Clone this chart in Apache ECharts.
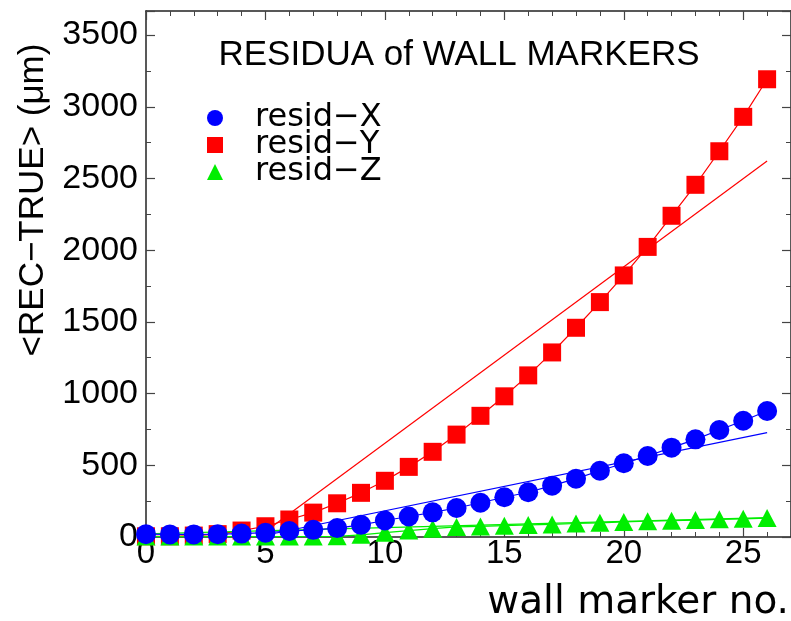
<!DOCTYPE html>
<html>
<head>
<meta charset="utf-8">
<script src="https://cdn.jsdelivr.net/npm/echarts@6/dist/echarts.min.js"></script>
<style>html,body{margin:0;padding:0;background:#fff;}#c{width:791px;height:621px;}</style>
</head>
<body>
<div id="c"></div>
<script>
// ---- data ----
const markerNo = [0,1,2,3,4,5,6,7,8,9,10,11,12,13,14,15,16,17,18,19,20,21,22,23,24,25,26];
const residX = [20,18,18,20,24,30,42,50,62,85,115,143,172,202,239,277,312,358,407,462,514,565,623,681,746,811,879];
const residY = [5,5,10,20,45,75,122,170,235,308,392,489,594,714,845,981,1127,1287,1459,1638,1824,2023,2240,2456,2690,2930,3192];
const residZ = [3,3,3,3,3,3,3,3,5,15,30,45,58,70,74,79,84,88,94,99,105,110,114,118,123,127,132];
// straight-line fits: [x start, x end] and values at those ends
const fitXRange = [5, 26], fitXVals = [12, 728];
const fitYRange = [5, 26], fitYVals = [39, 2622];
const fitZRange = [0, 26], fitZVals = [22, 135];
const xTicks = [0,5,10,15,20,25];
const yTicks = [0,500,1000,1500,2000,2500,3000,3500];
const names = ['resid\u2212X','resid\u2212Y','resid\u2212Z'];

const pts = (ys) => markerNo.map((x, i) => [x, ys[i]]);
const fit = (r, v) => [[r[0], v[0]], [r[1], v[1]]];

const BLUE = '#0000ff', RED = '#ff0000', GREEN = '#00ee00';
const numFont = 'Liberation Sans';
const txtFont = 'DejaVu Sans';

const chart = echarts.init(document.getElementById('c'), null, {renderer: 'canvas'});

const xCommon = {
  type: 'value', min: 0, max: 27, interval: xTicks[1] - xTicks[0],
  splitLine: {show: false},
  axisLine: {show: true, onZero: false, lineStyle: {color: '#222', width: 1.5}},
  axisTick: {show: true, inside: true, length: 9, lineStyle: {color: '#444', width: 1.2}},
  minorTick: {show: true, splitNumber: 5, length: 5, lineStyle: {color: '#444', width: 1}},
  minorSplitLine: {show: false}
};
const yCommon = {
  type: 'value', min: 0, max: 3668, interval: yTicks[1] - yTicks[0],
  splitLine: {show: false},
  axisLine: {show: true, onZero: false, lineStyle: {color: '#222', width: 1.5}},
  axisTick: {show: true, inside: true, length: 9, lineStyle: {color: '#444', width: 1.2}},
  minorTick: {show: true, splitNumber: 2, length: 5, lineStyle: {color: '#444', width: 1}},
  minorSplitLine: {show: false}
};

chart.setOption({
  animation: false,
  backgroundColor: '#fff',
  title: {
    text: 'RESIDUA of WALL MARKERS',
    left: 454, top: 33, textAlign: 'center',
    textStyle: {fontFamily: numFont, fontSize: 35, fontWeight: 'normal', color: '#000'}
  },
  legend: {
    left: 202, top: 97, orient: 'vertical', itemGap: -5,
    itemWidth: 16, itemHeight: 16,
    textStyle: {fontFamily: txtFont, fontSize: 32, color: '#000', padding: [0, 0, 0, 27]},
    data: [
      {name: names[0], icon: 'circle'},
      {name: names[1], icon: 'rect'},
      {name: names[2], icon: 'triangle'}
    ],
    selectedMode: false
  },
  grid: {left: 146, top: 11, right: -2, bottom: 84, containLabel: false},
  xAxis: [
    Object.assign({}, xCommon, {
      position: 'bottom',
      axisLabel: {show: true, margin: 0, showMaxLabel: false, fontFamily: numFont, fontSize: 33, color: '#000'}
    }),
    Object.assign({}, xCommon, {position: 'top', axisLabel: {show: false}})
  ],
  yAxis: [
    Object.assign({}, yCommon, {
      position: 'left',
      axisLabel: {show: true, margin: 8, showMaxLabel: false, fontFamily: numFont, fontSize: 34, color: '#000',
                  formatter: (v) => String(v)}
    }),
    Object.assign({}, yCommon, {position: 'right', axisLabel: {show: false}})
  ],
  graphic: [
    {
      type: 'text', x: 33, y: 200, rotation: Math.PI / 2,
      style: {text: '<REC\u2212TRUE> (\u03bcm)', fontFamily: numFont, fontSize: 35, fill: '#000', align: 'center', verticalAlign: 'middle'}
    },
    {
      type: 'text', x: 789, y: 603,
      style: {text: 'wall marker no.', fontFamily: txtFont, fontSize: 39, fill: '#000', align: 'right', verticalAlign: 'middle'}
    }
  ],
  series: [
    {name: names[1], type: 'line', data: pts(residY), symbol: 'rect', symbolSize: 18,
     itemStyle: {color: RED}, lineStyle: {color: RED, width: 1.2}, z: 2},
    {name: 'fitY', type: 'line', data: fit(fitYRange, fitYVals), symbol: 'none',
     lineStyle: {color: RED, width: 1.2}, z: 2},
    {name: names[2], type: 'line', data: pts(residZ), symbol: 'triangle', symbolSize: [19, 18],
     itemStyle: {color: GREEN}, lineStyle: {color: GREEN, width: 1.2}, z: 3},
    {name: 'fitZ', type: 'line', data: fit(fitZRange, fitZVals), symbol: 'none',
     lineStyle: {color: GREEN, width: 1.2}, z: 3},
    {name: names[0], type: 'line', data: pts(residX), symbol: 'circle', symbolSize: 20,
     itemStyle: {color: BLUE}, lineStyle: {color: BLUE, width: 1.2}, z: 4},
    {name: 'fitX', type: 'line', data: fit(fitXRange, fitXVals), symbol: 'none',
     lineStyle: {color: BLUE, width: 1.2}, z: 4}
  ]
});
</script>
</body>
</html>
